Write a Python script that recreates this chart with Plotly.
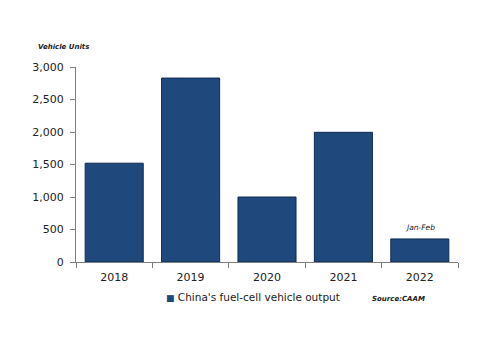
import plotly.graph_objects as go

years = ["2018", "2019", "2020", "2021", "2022"]
output = [1520, 2830, 1000, 1995, 355]
y_ticks = [0, 500, 1000, 1500, 2000, 2500, 3000]
y_tick_labels = ["0", "500", "1,000", "1,500", "2,000", "2,500", "3,000"]
series_name = "China's fuel-cell vehicle output"

BAR = "#1F497D"
FONT = "DejaVu Sans"

fig = go.Figure()
fig.add_trace(go.Bar(
    x=years, y=output, name=series_name, showlegend=False,
    marker=dict(color=BAR, line=dict(color="#0F2A50", width=1)),
))

fig.update_layout(
    width=500, height=353,
    margin=dict(l=76, r=42, t=67, b=91),
    paper_bgcolor="white", plot_bgcolor="white",
    bargap=0.24,
    font=dict(family=FONT, size=11, color="#222"),
    showlegend=False,
    xaxis=dict(type="category", showline=True, linecolor="#7f7f7f", linewidth=1,
               ticks="outside", tickson="boundaries", ticklen=5, tickcolor="#7f7f7f",
               ticklabelstandoff=5,
               showgrid=False, tickfont=dict(size=11)),
    yaxis=dict(range=[0, 3000], tickvals=y_ticks, ticktext=y_tick_labels,
               showline=True, linecolor="#7f7f7f", linewidth=1,
               ticks="outside", ticklen=5, tickcolor="#7f7f7f",
               ticklabelstandoff=4,
               showgrid=False, zeroline=False, tickfont=dict(size=11)),
    annotations=[
        dict(text="<b><i>Vehicle Units</i></b>", xref="paper", yref="paper",
             x=-0.105, y=1.10, xanchor="left", yanchor="middle", showarrow=False,
             font=dict(family=FONT, size=7, color="#222")),
        dict(text="<i>Jan-Feb</i>", xref="x", yref="y", x=years.index("2022"), y=output[4],
             yshift=5, showarrow=False, yanchor="bottom",
             font=dict(family=FONT, size=7.5, color="#222")),
        dict(text=f'<span style="color:{BAR};font-size:9px">■</span> {series_name}',
             xref="paper", yref="paper",
             x=0.23, y=-0.18, xanchor="left", yanchor="middle", showarrow=False,
             font=dict(family=FONT, size=10.5, color="#222")),
        dict(text="<b><i>Source:CAAM</i></b>", xref="paper", yref="paper",
             x=0.77, y=-0.19, xanchor="left", yanchor="middle", showarrow=False,
             font=dict(family=FONT, size=7, color="#222")),
    ],
)

fig.write_html("out.html")
